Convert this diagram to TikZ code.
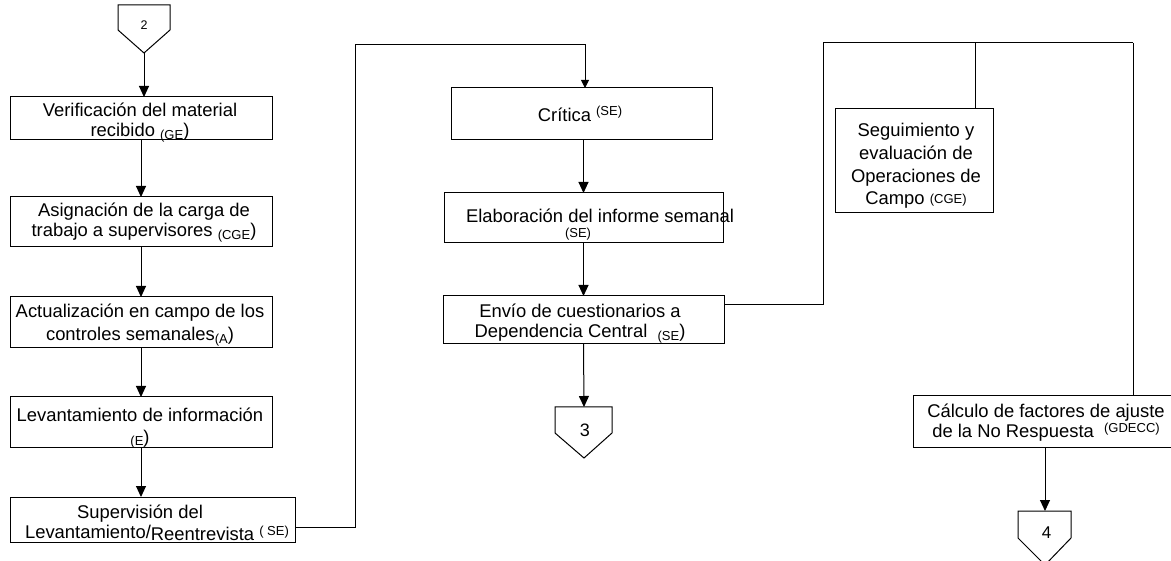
\documentclass[tikz,border=0pt]{standalone}
\usepackage{fontspec}
\setmainfont{Liberation Sans}
\usetikzlibrary{arrows.meta}
\newcommand{\sm}[1]{{\fontsize{13}{14}\selectfont #1}}
\tikzset{
  box/.style={draw, line width=1pt, inner sep=0pt, outer sep=0pt},
  lbl/.style={inner sep=0pt, align=center, font=\fontsize{18.4}{20}\selectfont, anchor=base},
  flow/.style={line width=1pt, -{Triangle[length=11pt,width=10pt]}},
  flowsm/.style={line width=1pt, -{Triangle[length=8pt,width=8pt]}},
  wire/.style={line width=1pt},
  conn/.style={line width=1pt},
}
\begin{document}
\begin{tikzpicture}[x=1pt,y=-1pt]
\useasboundingbox (0,0) rectangle (1171,561);
\clip (0,0) rectangle (1171,561);

% boxes
\node[box, minimum width=262, minimum height=43] (b1) at (141,118.5) {};
\node[box, minimum width=262, minimum height=50] (b2) at (141,222) {};
\node[box, minimum width=262, minimum height=51] (b3) at (141,322.5) {};
\node[box, minimum width=262, minimum height=51] (b4) at (141,422.5) {};
\node[box, minimum width=285, minimum height=45] (b5) at (152.5,519.5) {};
\node[box, minimum width=261, minimum height=52] (b6) at (581.5,114) {};
\node[box, minimum width=279, minimum height=50] (b7) at (583.5,218) {};
\node[box, minimum width=281, minimum height=48] (b8) at (583.5,320) {};
\node[box, minimum width=158, minimum height=104] (b9) at (914,161) {};
\node[box, minimum width=264, minimum height=52] (b10) at (1045,422) {};

% labels (base anchor = baseline of the last line)
\node[lbl] (t1) at (140,137) {Verificación del material\\recibido \raisebox{-2.5pt}{\sm{(GE}})};
\node[lbl] (t2) at (144,237) {Asignación de la carga de\\trabajo a supervisores \raisebox{-2.5pt}{\sm{(CGE}})};
\node[lbl, font=\fontsize{18.4}{23}\selectfont] (t3) at (140,341) {Actualización en campo de los\\controles semanales\raisebox{-2.5pt}{\sm{(A}})};
\node[lbl, font=\fontsize{18.4}{22}\selectfont] (t4) at (140,443) {Levantamiento de información\\\raisebox{-2.5pt}{\sm{(E}})};
\node[lbl] (t5) at (157,538) {Supervisión del\hspace*{34pt}\\Levantamiento/\raisebox{-2pt}{Reentrevista} \raisebox{3pt}{\sm{( SE)}}};
\node[lbl] (t6) at (580,122) {Crítica \raisebox{6pt}{\sm{(SE)}}};
\node[lbl, font=\fontsize{18.4}{15.5}\selectfont] (t7) at (589,238) {\makebox[0pt]{\hspace*{22pt}Elaboración del informe semanal}\\\makebox[0pt]{\sm{(SE)}\hspace*{22pt}}};
\node[lbl] (t8) at (580,338) {Envío de cuestionarios a\\Dependencia Central\ \ \raisebox{-2.5pt}{\sm{(SE}})};
\node[lbl, font=\fontsize{18.4}{22.7}\selectfont] (t9) at (916,205) {Seguimiento y\\evaluación de\\Operaciones de\\Campo \raisebox{1pt}{\sm{(CGE)}}};
\node[lbl] (t10) at (1046,438) {Cálculo de factores de ajuste\\de la No Respuesta \ \raisebox{5pt}{\sm{(GDECC)}}};

% off-page connectors
\coordinate (c2tip) at (144,53);
\draw[conn] (118,5) -- (170,5) -- (170,30) -- (c2tip) -- (118,30) -- cycle;
\node[font=\fontsize{12.5}{14}\selectfont] (c2) at (144,25) {2};

\coordinate (c3top) at (584,407);
\draw[conn] (555,407) -- (612,407) -- (612,433) -- (584,458) -- (555,433) -- cycle;
\node[font=\fontsize{18}{20}\selectfont] (c3) at (585,430.5) {3};

\coordinate (c4top) at (1045,511);
\draw[conn] (1018,511) -- (1071,511) -- (1071,538) -- (1045,565) -- (1018,538) -- cycle;
\node[font=\fontsize{17}{20}\selectfont] (c4) at (1046.5,532.5) {4};

% connectors, left column
\draw[flow] (c2tip) -- (c2tip |- b1.north);
\draw[flow] (b1.south) -- (b2.north);
\draw[flow] (b2.south) -- (b3.north);
\draw[flow] (b3.south) -- (b4.north);
\draw[flow] (b4.south) -- (b4.south |- b5.north);

% to middle column
\coordinate (j1) at (355,527);
\coordinate (j2) at (355,45);
\coordinate (j3) at (585,45);
\draw[flowsm] (b5.east |- j1) -- (j1) -- (j2) -- (j3) -- (j3 |- b6.north);

\draw[flow] (b7.north |- b6.south) -- (b7.north);
\draw[flow] (b7.south) -- (b8.north);
\draw[flow] (b8.south) -- (c3top);

% to right column
\coordinate (k1) at (823,305);
\coordinate (k2) at (823,43);
\coordinate (k3) at (975,43);
\coordinate (k4) at (1133,43);
\draw[wire] (b8.east |- k1) -- (k1) -- (k2) -- (k4);
\draw[wire] (k3) -- (k3 |- b9.north);
\draw[wire] (k4) -- (k4 |- b10.north);

\draw[flow] (b10.south) -- (c4top);
\end{tikzpicture}
\end{document}
